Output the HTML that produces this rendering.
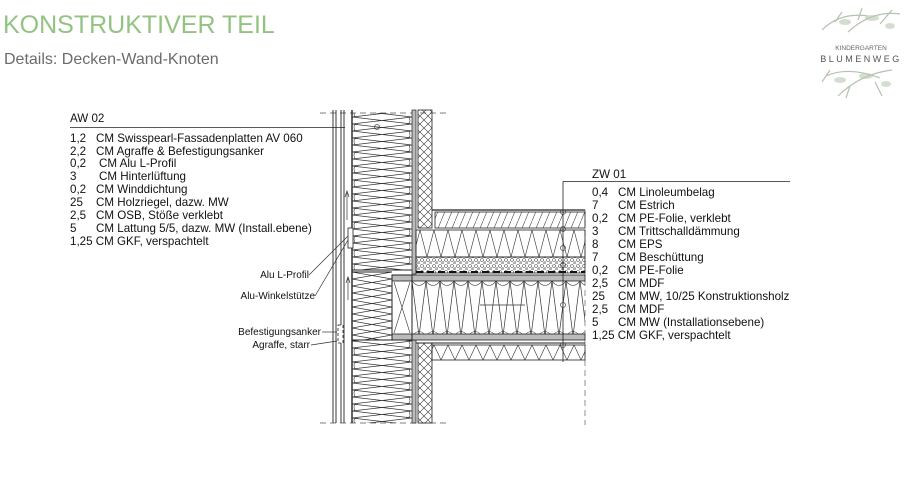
<!DOCTYPE html>
<html><head><meta charset="utf-8"><style>
html,body{margin:0;padding:0;background:#fff;width:924px;height:486px;overflow:hidden}
svg{display:block}
text{font-family:"Liberation Sans",Arial,sans-serif}
</style></head><body>
<svg width="924" height="486" viewBox="0 0 924 486" xmlns="http://www.w3.org/2000/svg">
<defs>
<pattern id="zz" width="60" height="14" patternUnits="userSpaceOnUse" x="352" y="110">
<path d="M0 0 L60 7 L0 14 M60 0 L0 7 L60 14" stroke="#333" stroke-width="0.7" fill="none"/>
<path d="M3 7 Q0 0 6 0 M57 7 Q60 14 54 14" stroke="#333" stroke-width="0.6" fill="none"/>
</pattern>
<pattern id="zz2" width="40" height="14" patternUnits="userSpaceOnUse" x="352" y="272">
<path d="M0 0 L40 7 L0 14 M40 0 L0 7 L40 14" stroke="#333" stroke-width="0.7" fill="none"/>
</pattern>
<pattern id="zzv" width="14" height="55" patternUnits="userSpaceOnUse" x="412" y="281">
<path d="M0 0 L7 55 L14 0" stroke="#333" stroke-width="0.7" fill="none"/>
<path d="M0 55 Q7 46 14 55 M0 0 Q7 9 14 0" stroke="#333" stroke-width="0.6" fill="none"/>
</pattern>
<pattern id="xh" width="8" height="8" patternUnits="userSpaceOnUse">
<path d="M0 0 L8 8 M8 0 L0 8" stroke="#333" stroke-width="0.6"/>
</pattern>
<pattern id="hh" width="7" height="17" patternUnits="userSpaceOnUse">
<path d="M0 17 L7 0" stroke="#444" stroke-width="0.6"/>
</pattern>
<pattern id="eps" width="14" height="27" patternUnits="userSpaceOnUse" y="230">
<path d="M0 0 L7 27 L14 0" stroke="#333" stroke-width="0.6" fill="none"/>
</pattern>
<pattern id="grav" width="6" height="6" patternUnits="userSpaceOnUse">
<circle cx="2" cy="2" r="1.5" fill="none" stroke="#444" stroke-width="0.6"/>
<circle cx="5" cy="5" r="1.2" fill="none" stroke="#444" stroke-width="0.6"/>
</pattern>
<pattern id="ins" width="14" height="15" patternUnits="userSpaceOnUse" y="345">
<path d="M0 0 L7 15 L14 0" stroke="#333" stroke-width="0.6" fill="none"/>
</pattern>
</defs>

<text x="3" y="33" font-size="25" fill="#93c383">KONSTRUKTIVER TEIL</text>
<text x="4" y="64" font-size="16" fill="#6b6b6b">Details: Decken-Wand-Knoten</text>

<!-- logo -->
<g>
<g stroke="#9fb59a" stroke-width="1.2" fill="none" opacity="0.8">
<path d="M822 30 Q840 12 868 16 M848 32 Q872 10 900 14 M835 22 L842 12 M880 24 L892 10 M858 20 L862 8"/>
<path d="M826 76 Q848 66 880 78 M838 96 Q860 74 892 70 M850 86 L846 98 M875 82 L882 96 M830 70 L822 82"/>
</g>
<g fill="#b7c9b2" opacity="0.6">
<ellipse cx="845" cy="22" rx="6" ry="3"/><ellipse cx="872" cy="18" rx="7" ry="3"/><ellipse cx="890" cy="26" rx="5" ry="3"/>
<ellipse cx="840" cy="80" rx="6" ry="3"/><ellipse cx="866" cy="76" rx="7" ry="3"/><ellipse cx="886" cy="84" rx="5" ry="3"/>
</g>
<text x="861" y="50" font-size="6.5" fill="#666" text-anchor="middle" font-family="Liberation Serif">KINDERGARTEN</text>
<text x="861" y="62" font-size="9" fill="#555" text-anchor="middle" font-family="Liberation Serif" letter-spacing="2.5">BLUMENWEG</text>
</g>

<!-- dashed cut lines -->
<path d="M320 113 H450 M320 423 H450" stroke="#555" stroke-dasharray="6,4" stroke-width="0.8"/>
<path d="M585 210 V425" stroke="#777" stroke-dasharray="6,4" stroke-width="0.8"/>

<g stroke="#222" stroke-width="0.9">
<line x1="333" y1="110" x2="333" y2="423"/>
<line x1="336" y1="110" x2="336" y2="423"/>
<line x1="341" y1="110" x2="341" y2="423"/>
<line x1="344" y1="110" x2="344" y2="423"/>
<line x1="352" y1="110" x2="352" y2="423" stroke-width="1.4"/>
</g>
<rect x="352" y="113" width="60" height="157" fill="url(#zz)"/>
<rect x="352" y="272" width="40" height="68" fill="url(#zz2)"/>
<rect x="352" y="340" width="60" height="83" fill="url(#zz)"/>
<line x1="352" y1="270" x2="412" y2="270" stroke="#222"/>
<line x1="352" y1="272" x2="392" y2="272" stroke="#222"/>
<line x1="352" y1="340" x2="412" y2="340" stroke="#222"/>
<rect x="412" y="110" width="4" height="164" fill="#bbb" stroke="#222" stroke-width="0.7"/>
<rect x="412" y="340" width="4" height="83" fill="#bbb" stroke="#222" stroke-width="0.7"/>
<rect x="418" y="110" width="14" height="118" fill="url(#xh)" stroke="#222" stroke-width="0.8"/>
<rect x="418" y="343" width="14" height="80" fill="url(#xh)" stroke="#222" stroke-width="0.8"/>
<rect x="435" y="212" width="150" height="16" fill="url(#hh)" stroke="#222" stroke-width="0.8"/>
<line x1="432" y1="210" x2="585" y2="210" stroke="#222" stroke-width="1.2"/>
<rect x="416" y="230" width="169" height="27" fill="url(#eps)" stroke="#222" stroke-width="0.8"/>
<rect x="416" y="257" width="169" height="16" fill="url(#grav)" stroke="#222" stroke-width="0.8"/>
<line x1="416" y1="272" x2="585" y2="272" stroke="#111" stroke-width="2" stroke-dasharray="7,4"/>
<rect x="392" y="275" width="193" height="6" fill="#bbb" stroke="#222" stroke-width="0.8"/>
<rect x="392" y="334" width="193" height="6" fill="#bbb" stroke="#222" stroke-width="0.8"/>
<rect x="412" y="281" width="173" height="53" fill="url(#zzv)"/>
<rect x="392" y="275" width="20" height="65" fill="none" stroke="#222" stroke-width="1"/>
<path d="M394 282 L410 333 M410 282 L394 333" stroke="#333" stroke-width="0.6"/>
<line x1="480" y1="305" x2="525" y2="305" stroke="#333" stroke-width="0.7"/>
<line x1="416" y1="343" x2="585" y2="343" stroke="#222"/>
<rect x="432" y="345" width="153" height="15" fill="url(#ins)" stroke="#222" stroke-width="0.8"/>
<path d="M347 220 V193 M345 197 L347 191 L349 197 M348 300 V278 M346 283 L348 277 L350 283" stroke="#333" stroke-width="0.7" fill="none"/>
<rect x="348" y="228" width="5" height="20" fill="#fff" stroke="#222" stroke-width="0.8"/>
<rect x="338" y="325" width="5" height="18" fill="#fff" stroke="#222" stroke-width="0.8" stroke-dasharray="3,2"/>

<g font-size="11.6" fill="#111">
<text x="70" y="122">AW 02</text>
<line x1="70" y1="127.5" x2="345" y2="127.5" stroke="#222" stroke-width="0.8"/>
<text x="70" y="142">1,2</text><text x="96" y="142">CM Swisspearl-Fassadenplatten AV 060</text>
<text x="70" y="155">2,2</text><text x="96" y="155">CM Agraffe &amp; Befestigungsanker</text>
<text x="70" y="167">0,2</text><text x="99" y="167">CM Alu L-Profil</text>
<text x="70" y="180">3</text><text x="99" y="180">CM Hinterlüftung</text>
<text x="70" y="193">0,2</text><text x="96" y="193">CM Winddichtung</text>
<text x="70" y="206">25</text><text x="96" y="206">CM Holzriegel, dazw. MW</text>
<text x="70" y="219">2,5</text><text x="96" y="219">CM OSB, Stöße verklebt</text>
<text x="70" y="232">5</text><text x="96" y="232">CM Lattung 5/5, dazw. MW (Install.ebene)</text>
<text x="70" y="245">1,25 CM GKF, verspachtelt</text>
</g>

<g font-size="11.6" fill="#111">
<text x="592" y="178">ZW 01</text>
<path d="M563 181.5 H790 M563 181.5 V362" stroke="#222" stroke-width="0.8" fill="none"/>
<text x="592" y="196">0,4</text><text x="618" y="196">CM Linoleumbelag</text>
<text x="592" y="209">7</text><text x="618" y="209">CM Estrich</text>
<text x="592" y="222">0,2</text><text x="618" y="222">CM PE-Folie, verklebt</text>
<text x="592" y="235">3</text><text x="618" y="235">CM Trittschalldämmung</text>
<text x="592" y="248">8</text><text x="618" y="248">CM EPS</text>
<text x="592" y="261">7</text><text x="618" y="261">CM Beschüttung</text>
<text x="592" y="274">0,2</text><text x="618" y="274">CM PE-Folie</text>
<text x="592" y="287">2,5</text><text x="618" y="287">CM MDF</text>
<text x="592" y="300">25</text><text x="618" y="300">CM MW, 10/25 Konstruktionsholz</text>
<text x="592" y="313">2,5</text><text x="618" y="313">CM MDF</text>
<text x="592" y="326">5</text><text x="618" y="326">CM MW (Installationsebene)</text>
<text x="592" y="339">1,25 CM GKF, verspachtelt</text>
</g>
<g fill="none" stroke="#444" stroke-width="0.7">
<circle cx="563" cy="212" r="2.5"/><circle cx="563" cy="229" r="2.5"/><circle cx="563" cy="248" r="2.5"/>
<circle cx="563" cy="265" r="2.5"/><circle cx="563" cy="305" r="2.5"/><circle cx="563" cy="345" r="2.5"/>
<circle cx="377" cy="127" r="2.5"/>
</g>

<g font-size="10" fill="#111" text-anchor="end">
<text x="309" y="278">Alu L-Profil</text>
<text x="315" y="299">Alu-Winkelstütze</text>
<text x="321" y="335">Befestigungsanker</text>
<text x="310" y="348">Agraffe, starr</text>
</g>
<g stroke="#333" stroke-width="0.7" fill="none">
<path d="M309 275 L348 236"/>
<path d="M315 296 L348 240"/>
<path d="M322 332 H337"/>
<path d="M311 345 L337 341"/>
</g>
</svg>
</body></html>
